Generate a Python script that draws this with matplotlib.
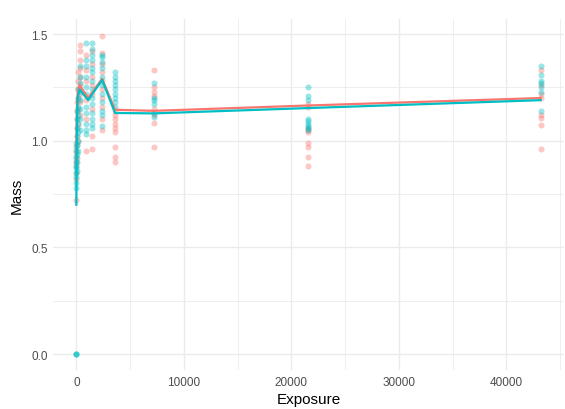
import matplotlib

matplotlib.use("Agg")

import matplotlib.pyplot as plt
from matplotlib.ticker import MultipleLocator


# Exposure levels that have measurements
exposures = [0, 60, 120, 300, 900, 1500, 2400, 3600, 7200, 21600, 43200]

# Mass readings per exposure level, one list per level
red_mass = [
    [0.72, 0.82, 0.85, 0.88, 0.90, 0.95],
    [0.92, 0.98, 1.02, 1.06, 1.10, 1.14, 1.18],
    [1.00, 1.08, 1.15, 1.20, 1.24, 1.28, 1.32],
    [1.12, 1.18, 1.22, 1.26, 1.30, 1.34, 1.38, 1.42, 1.45],
    [0.95, 1.10, 1.19, 1.28, 1.33, 1.40],
    [0.96, 1.02, 1.15, 1.22, 1.26, 1.30, 1.36, 1.42],
    [1.05, 1.10, 1.16, 1.20, 1.24, 1.28, 1.32, 1.36, 1.41, 1.49],
    [0.90, 0.925, 0.97, 1.04, 1.06, 1.08, 1.10, 1.12, 1.14],
    [0.97, 1.085, 1.12, 1.15, 1.21, 1.23, 1.25, 1.33],
    [0.88, 0.925, 0.97, 0.99, 1.04, 1.05, 1.06, 1.16, 1.17],
    [0.96, 1.075, 1.105, 1.12, 1.20, 1.22, 1.26, 1.33],
]

teal_mass = [
    [0.0, 0.0, 0.0, 0.78, 0.80, 0.83, 0.85, 0.87, 0.88, 0.90, 0.92, 0.93, 0.95, 0.97, 0.99],
    [0.86, 0.90, 0.94, 0.98, 1.02, 1.06, 1.10, 1.14],
    [0.95, 1.00, 1.04, 1.08, 1.12, 1.16, 1.20, 1.24],
    [1.05, 1.10, 1.15, 1.19, 1.23, 1.27, 1.30, 1.35],
    [1.03, 1.05, 1.08, 1.13, 1.16, 1.22, 1.25, 1.30, 1.35, 1.38, 1.46],
    [1.06, 1.08, 1.10, 1.13, 1.17, 1.20, 1.24, 1.28, 1.32, 1.34, 1.38, 1.40, 1.43, 1.46],
    [1.07, 1.12, 1.14, 1.18, 1.22, 1.26, 1.30, 1.34, 1.37, 1.39, 1.40],
    [1.16, 1.18, 1.20, 1.22, 1.24, 1.26, 1.28, 1.30, 1.32],
    [1.11, 1.13, 1.17, 1.19, 1.20, 1.27],
    [1.05, 1.06, 1.07, 1.08, 1.09, 1.10, 1.19, 1.21, 1.25],
    [1.14, 1.23, 1.25, 1.27, 1.28, 1.31, 1.35],
]

# Fitted curve for each group
line_exposure = [0, 30, 60, 120, 300, 1100, 2400, 3600, 7200, 21600, 43200]
red_line = [0.90, 1.05, 1.15, 1.22, 1.26, 1.20, 1.29, 1.145, 1.14, 1.165, 1.20]
teal_line = [0.70, 0.95, 1.10, 1.20, 1.24, 1.19, 1.285, 1.13, 1.128, 1.153, 1.19]

RED = "#F8766D"
TEAL = "#00BFC4"

plt.rcParams["font.family"] = ["Liberation Sans", "DejaVu Sans"]

fig = plt.figure(figsize=(5.65, 4.1), dpi=100)
ax = fig.add_axes([0.094, 0.095, 0.904, 0.856])

for mass_lists, color in [(red_mass, RED), (teal_mass, TEAL)]:
    for exposure, values in zip(exposures, mass_lists):
        ax.scatter([exposure] * len(values), values, s=19, color=color,
                   alpha=0.4, linewidths=0, zorder=3)

ax.plot(line_exposure, red_line, color=RED, lw=1.6, zorder=4)
ax.plot(line_exposure, teal_line, color=TEAL, lw=1.6, zorder=5)

ax.set_xlim(-2160, 45360)
ax.set_ylim(-0.075, 1.57)
ax.xaxis.set_major_locator(MultipleLocator(10000))
ax.xaxis.set_minor_locator(MultipleLocator(5000))
ax.yaxis.set_major_locator(MultipleLocator(0.5))
ax.yaxis.set_minor_locator(MultipleLocator(0.25))
ax.yaxis.set_major_formatter(lambda v, pos: f"{v:.1f}")

ax.grid(which="major", color="#EBEBEB", lw=1.0)
ax.grid(which="minor", color="#EBEBEB", lw=0.6)
ax.set_axisbelow(True)

for spine in ax.spines.values():
    spine.set_visible(False)
ax.tick_params(which="both", length=0, labelsize=8.5, labelcolor="#4D4D4D", pad=4)

ax.set_xlabel("Exposure", fontsize=11, labelpad=3)
ax.set_ylabel("Mass", fontsize=11, labelpad=5)

fig.savefig("out.png", dpi=100)
